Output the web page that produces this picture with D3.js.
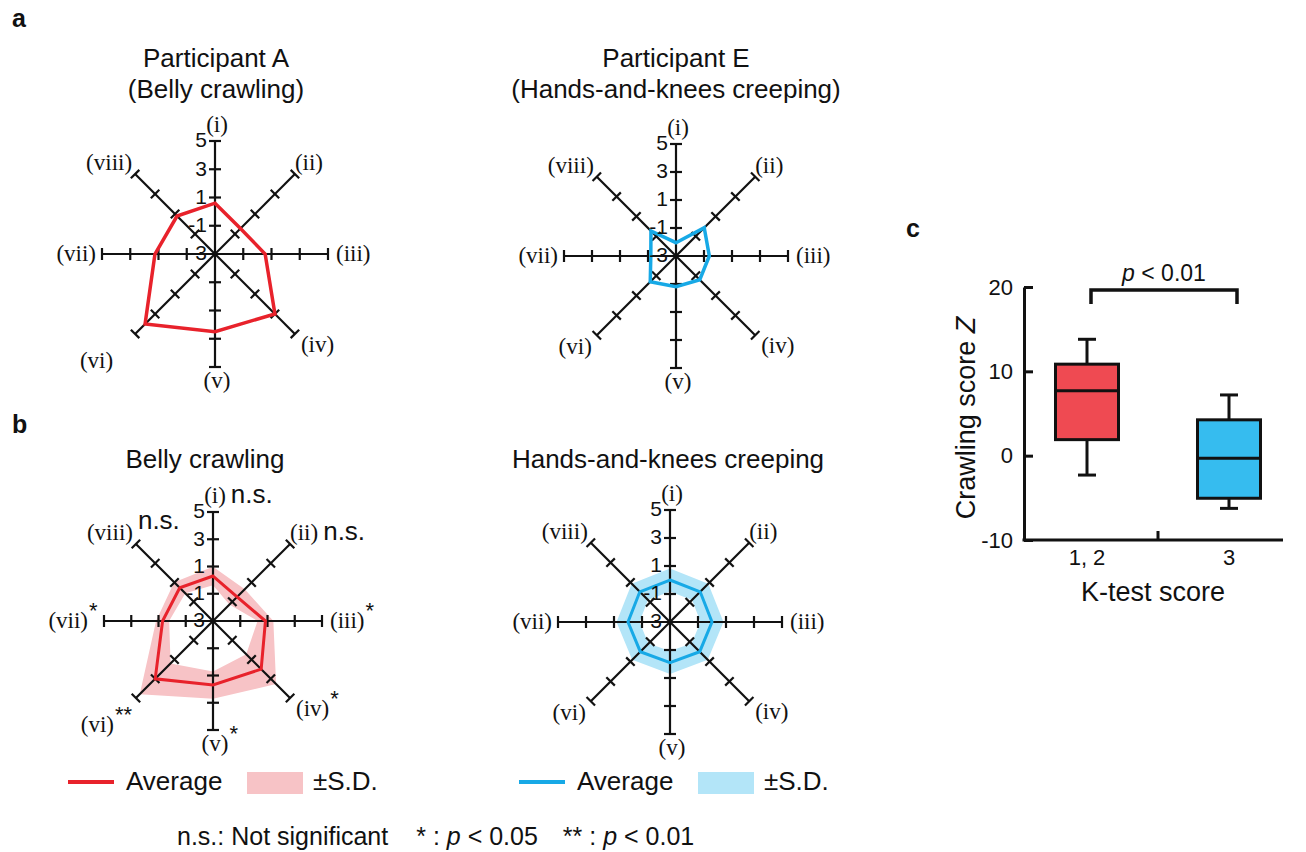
<!DOCTYPE html>
<html>
<head>
<meta charset="utf-8">
<script src="https://cdn.jsdelivr.net/npm/d3@7/dist/d3.min.js"></script>
<style>
  body { margin: 0; background: #fff; }
  svg text { font-family: "Liberation Sans", Arial, Helvetica, sans-serif; fill: #111; }
  svg text.serif { font-family: "Liberation Serif", "Times New Roman", serif; }
</style>
</head>
<body>
<div id="figure"></div>
<script>
//DATA--------------------
var axisLabels = ["(i)", "(ii)", "(iii)", "(iv)", "(v)", "(vi)", "(vii)", "(viii)"];
var tickValues = [-1, 1, 3, 5];
var tickLabels = [5, 3, 1, -1, -3];

// panel a: single participants
var participantA = [0.6, -0.45, 0.55, 3.0, 2.5, 4.0, 1.25, 0.8];
var participantE = [-2.05, -0.15, -0.62, -0.6, -0.8, -0.4, -1.2, -0.47];

// panel b: group average and S.D.
var bellyMean = [0.3, -0.5, 0.85, 2.0, 1.7, 3.0, 0.7, 0.45];
var bellySD = [0.68, 0.8, 0.58, 1.55, 1.0, 1.6, 0.48, 0.58];
var bellySig = ["n.s.", "n.s.", "*", "*", "*", "**", "*", "n.s."];
var creepMean = [0.0, 0.05, 0.0, 0.0, -0.1, 0.0, 0.0, 0.05];
var creepSD = [0.82, 0.82, 0.82, 0.82, 0.82, 0.82, 0.82, 0.82];

// panel c: box plot
var kTestGroups = ["1, 2", "3"];
var whiskerLow = [-2.3, -6.25];
var quart1 = [1.9, -5.05];
var medians = [7.7, -0.3];
var quart3 = [10.85, 4.25];
var whiskerHigh = [13.8, 7.2];
var zTicks = [-10, 0, 10, 20];

//SET UP--------------------
var svgWidth = 1306;
var svgHeight = 852;

var red = "#e8222b";
var pink = "#f7c3c6";
var blue = "#17a9e6";
var lightBlue = "#b3e5f8";

var svg = d3.select("#figure")
    .append("svg")
    .attr("width", svgWidth)
    .attr("height", svgHeight);

// where each axis label sits relative to the end of its axis
var labelPlace = [
    {anchor: "middle", dx: 2, dy: -9},
    {anchor: "start", dx: 0, dy: -4},
    {anchor: "start", dx: 8, dy: 7},
    {anchor: "start", dx: 6, dy: 18},
    {anchor: "middle", dx: 2, dy: 21},
    {anchor: "end", dx: -5, dy: 19},
    {anchor: "end", dx: -6, dy: 7},
    {anchor: "end", dx: -3, dy: -4}
];

//FUNCTIONS--------------------
function drawRadar(opts) {
    var g = svg.append("g")
        .attr("transform", `translate(${opts.cx}, ${opts.cy})`);

    var rScale = d3.scaleLinear().domain([-3, 5]).range([0, opts.R]);
    var pt = (v, i) => {
        var a = i * Math.PI / 4;
        return [rScale(v) * Math.sin(a), -rScale(v) * Math.cos(a)];
    };
    var closed = d3.line().curve(d3.curveLinearClosed);

    // S.D. band (ring between mean+sd and mean-sd)
    if (opts.sd) {
        var outer = opts.mean.map((m, i) => pt(m + opts.sd[i], i));
        var inner = opts.mean.map((m, i) => pt(m - opts.sd[i], i));
        g.append("path")
            .attr("d", closed(outer) + closed(inner))
            .attr("fill", opts.band)
            .attr("fill-rule", "evenodd");
    }

    // spokes and ticks
    axisLabels.forEach((lab, i) => {
        var end = pt(5, i);
        g.append("line")
            .attr("x1", 0).attr("y1", 0)
            .attr("x2", end[0]).attr("y2", end[1])
            .attr("stroke", "#111")
            .attr("stroke-width", 2.2);
        var a = i * Math.PI / 4;
        var px = Math.cos(a), py = Math.sin(a);
        tickValues.forEach(v => {
            var p = pt(v, i);
            g.append("line")
                .attr("x1", p[0] - 6 * px).attr("y1", p[1] - 6 * py)
                .attr("x2", p[0] + 6 * px).attr("y2", p[1] + 6 * py)
                .attr("stroke", "#111")
                .attr("stroke-width", 2.2);
        });
    });

    // average line
    g.append("path")
        .attr("d", closed(opts.mean.map(pt)))
        .attr("fill", "none")
        .attr("stroke", opts.color)
        .attr("stroke-width", opts.lineWidth)
        .attr("stroke-linejoin", "miter");

    // value labels on the vertical axis
    g.selectAll("text.tick")
        .data(tickLabels)
        .enter()
        .append("text")
        .attr("class", "tick")
        .attr("x", -8)
        .attr("y", d => -rScale(d))
        .attr("dy", "0.3em")
        .attr("text-anchor", "end")
        .attr("font-size", 21)
        .text(d => d);

    // axis names (+ significance marks)
    axisLabels.forEach((lab, i) => {
        var end = pt(5, i);
        var place = labelPlace[i];
        if (i === 5 && opts.farSix) place = {anchor: "end", dx: -22, dy: 34};
        var t = g.append("text")
            .attr("class", "serif")
            .attr("x", end[0] + place.dx)
            .attr("y", end[1] + place.dy)
            .attr("text-anchor", place.anchor)
            .attr("font-size", 23)
            .text(lab);

        if (opts.sig) {
            var s = opts.sig[i];
            var box = t.node().getBBox();
            var ns = s === "n.s.";
            var mark = g.append("text")
                .attr("x", box.x + box.width + (ns ? 5 : 1))
                .attr("y", end[1] + place.dy + (ns ? (i === 7 ? -11 : 0) : -10))
                .attr("font-size", ns ? 26 : 22)
                .text(s);
            // stars on left-hand labels push the label left
            if (!ns && place.anchor === "end" && i !== 5) {
                var w = mark.node().getBBox().width + 1;
                t.attr("x", +t.attr("x") - w);
                mark.attr("x", +mark.attr("x") - w);
            }
        }
    });
}

function addTitle(x, y, lines) {
    lines.forEach((line, i) => {
        svg.append("text")
            .attr("x", x)
            .attr("y", y + i * 31)
            .attr("text-anchor", "middle")
            .attr("font-size", 26)
            .text(line);
    });
}

function addLegend(x, y, color, band) {
    svg.append("line")
        .attr("x1", x).attr("x2", x + 46)
        .attr("y1", y).attr("y2", y)
        .attr("stroke", color)
        .attr("stroke-width", 4);
    svg.append("text")
        .attr("x", x + 58).attr("y", y + 8)
        .attr("font-size", 26)
        .text("Average");
    svg.append("rect")
        .attr("x", x + 179).attr("y", y - 10)
        .attr("width", 56).attr("height", 22)
        .attr("fill", band);
    svg.append("text")
        .attr("x", x + 245).attr("y", y + 8)
        .attr("font-size", 26)
        .text("\u00b1S.D.");
}

//PANEL LETTERS--------------------
[["a", 12, 27], ["b", 12, 433], ["c", 906, 237]].forEach(d => {
    svg.append("text")
        .attr("x", d[1]).attr("y", d[2])
        .attr("font-size", 25)
        .attr("font-weight", "bold")
        .text(d[0]);
});

//PANEL A--------------------
addTitle(216, 67, ["Participant A", "(Belly crawling)"]);
addTitle(676, 67, ["Participant E", "(Hands-and-knees creeping)"]);

drawRadar({cx: 215, cy: 254, R: 113, mean: participantA, color: red, lineWidth: 3.5, farSix: true});
drawRadar({cx: 676, cy: 256, R: 112, mean: participantE, color: blue, lineWidth: 3.5});

//PANEL B--------------------
addTitle(205, 468, ["Belly crawling"]);
addTitle(668, 468, ["Hands-and-knees creeping"]);

drawRadar({cx: 213, cy: 621, R: 109, mean: bellyMean, sd: bellySD, sig: bellySig,
    color: red, band: pink, lineWidth: 3, farSix: true});
drawRadar({cx: 670, cy: 622, R: 112, mean: creepMean, sd: creepSD,
    color: blue, band: lightBlue, lineWidth: 3});

addLegend(68, 782, red, pink);
addLegend(519, 782, blue, lightBlue);

// footnote
var foot = svg.append("text")
    .attr("x", 177).attr("y", 845)
    .attr("font-size", 25);
foot.append("tspan").text("n.s.: Not significant");
foot.append("tspan").attr("dx", 28).text("* : ");
foot.append("tspan").attr("font-style", "italic").text("p");
foot.append("tspan").text(" < 0.05");
foot.append("tspan").attr("dx", 25).text("** : ");
foot.append("tspan").attr("font-style", "italic").text("p");
foot.append("tspan").text(" < 0.01");

//PANEL C--------------------
var yBox = d3.scaleLinear().domain([-10, 20]).range([540, 287]);
var xBox = d3.scaleBand().domain(kTestGroups).range([1016, 1300]);
var boxW = 63;

var plot = svg.append("g");

// y axis, ticks pointing inward
var leftAxis = d3.axisLeft(yBox)
    .tickValues(zTicks)
    .tickFormat(d => String(d))
    .tickSizeInner(-9)
    .tickSizeOuter(0)
    .tickPadding(11);

var yAxis = plot.append("g")
    .attr("transform", "translate(1024, 0)")
    .call(leftAxis);
yAxis.select(".domain").attr("stroke", "#111").attr("stroke-width", 3);
yAxis.selectAll(".tick line").attr("stroke", "#111").attr("stroke-width", 3);
yAxis.selectAll(".tick text")
    .attr("font-size", 22)
    .attr("fill", "#111")
    .style("font-family", "'Liberation Sans', Arial, sans-serif");

// x axis line and the single divider tick
plot.append("line")
    .attr("x1", 1022.5).attr("x2", 1283)
    .attr("y1", yBox(-10)).attr("y2", yBox(-10))
    .attr("stroke", "#111").attr("stroke-width", 3);
plot.append("line")
    .attr("x1", xBox("3")).attr("x2", xBox("3"))
    .attr("y1", yBox(-10)).attr("y2", yBox(-10) - 9)
    .attr("stroke", "#111").attr("stroke-width", 3);

plot.selectAll("text.cat")
    .data(kTestGroups)
    .enter()
    .append("text")
    .attr("class", "cat")
    .attr("x", d => xBox(d) + xBox.bandwidth() / 2)
    .attr("y", 565)
    .attr("text-anchor", "middle")
    .attr("font-size", 22)
    .text(d => d);

svg.append("text")
    .attr("x", 1153).attr("y", 601)
    .attr("text-anchor", "middle")
    .attr("font-size", 27)
    .text("K-test score");

var yTitle = svg.append("text")
    .attr("transform", "translate(975, 418) rotate(-90)")
    .attr("text-anchor", "middle")
    .attr("font-size", 27);
yTitle.append("tspan").text("Crawling score ");
yTitle.append("tspan").attr("font-style", "italic").text("Z");

// boxes
var boxColors = ["#ef4a52", "#36bcef"];
kTestGroups.forEach((grp, i) => {
    var cx = xBox(grp) + xBox.bandwidth() / 2;
    var gb = plot.append("g");
    gb.append("line")
        .attr("x1", cx).attr("x2", cx)
        .attr("y1", yBox(whiskerLow[i])).attr("y2", yBox(whiskerHigh[i]))
        .attr("stroke", "#111").attr("stroke-width", 3);
    [whiskerLow[i], whiskerHigh[i]].forEach(v => {
        gb.append("line")
            .attr("x1", cx - 9).attr("x2", cx + 9)
            .attr("y1", yBox(v)).attr("y2", yBox(v))
            .attr("stroke", "#111").attr("stroke-width", 3);
    });
    gb.append("rect")
        .attr("x", cx - boxW / 2)
        .attr("y", yBox(quart3[i]))
        .attr("width", boxW)
        .attr("height", yBox(quart1[i]) - yBox(quart3[i]))
        .attr("fill", boxColors[i])
        .attr("stroke", "#111").attr("stroke-width", 3);
    gb.append("line")
        .attr("x1", cx - boxW / 2).attr("x2", cx + boxW / 2)
        .attr("y1", yBox(medians[i])).attr("y2", yBox(medians[i]))
        .attr("stroke", "#111").attr("stroke-width", 3);
});

// significance bracket
var b1 = xBox(kTestGroups[0]) + xBox.bandwidth() / 2 + 4;
var b2 = xBox(kTestGroups[1]) + xBox.bandwidth() / 2 + 8;
plot.append("path")
    .attr("d", `M${b1},304 V290 H${b2} V304`)
    .attr("fill", "none")
    .attr("stroke", "#111").attr("stroke-width", 3.5);

var pText = svg.append("text")
    .attr("x", (b1 + b2) / 2).attr("y", 281)
    .attr("text-anchor", "middle")
    .attr("font-size", 23);
pText.append("tspan").attr("font-style", "italic").text("p");
pText.append("tspan").text(" < 0.01");
</script>
</body>
</html>
